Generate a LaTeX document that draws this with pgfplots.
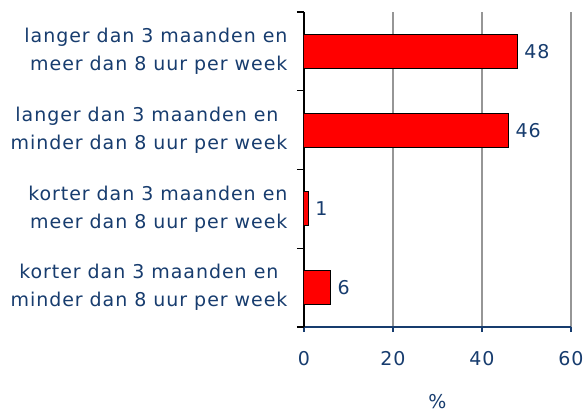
\documentclass[border=0pt]{standalone}
\usepackage{pgfplots}
\pgfplotsset{compat=1.18}
\usepackage{fontspec}
\setmainfont[LetterSpace=5]{DejaVu Sans}
\definecolor{navy}{RGB}{23,60,110}
\definecolor{gridgray}{RGB}{150,150,150}
\newcommand\cf{\fontsize{19}{28}\selectfont}
\pgfplotstableread[col sep=comma]{
y,val
0,6
1,1
2,46
3,48
}\mydata
\begin{document}
\begin{tikzpicture}[x=1pt,y=1pt]
\useasboundingbox (-304,-85) rectangle (281,327);
\begin{axis}[
  at={(0,0)}, anchor=south west,
  scale only axis, width=267pt, height=315pt,
  xmin=0, xmax=60, ymin=-0.5, ymax=3.5,
  xbar, bar width=0.43,
  axis x line=bottom, axis y line=left,
  x axis line style={navy, line width=1.2pt, -},
  y axis line style={black, line width=1.2pt, -},
  xtick={0,20,40,60},
  tick align=outside,
  major tick length=5pt,
  minor tick length=7pt,
  xtick style={navy, line width=1.2pt},
  ytick={0,1,2,3},
  ytick style={black, line width=1.2pt},
  major y tick style={draw=none},
  minor ytick={-0.5,0.5,1.5,2.5,3.5},
  xmajorgrids,
  major x grid style={gridgray, line width=1.2pt},
  yticklabels={
    {korter dan 3 maanden en\hspace*{9pt}\\minder dan 8 uur per week},
    {korter dan 3 maanden en\\meer dan 8 uur per week},
    {langer dan 3 maanden en\hspace*{9pt}\\minder dan 8 uur per week},
    {langer dan 3 maanden en\\meer dan 8 uur per week}},
  yticklabel style={font=\cf, text=navy, align=right, xshift=-8pt},
  xticklabel style={font=\cf, text=navy, yshift=-16pt},
  /pgf/number format/assume math mode=true,
  xlabel={\%},
  xlabel style={font=\cf, text=navy, yshift=-22pt},
  nodes near coords,
  nodes near coords style={font=\cf, text=navy, anchor=west, xshift=3pt},
]
\addplot[draw=black, fill=red, line width=1pt] table[x=val, y=y] {\mydata};
\end{axis}
\end{tikzpicture}
\end{document}
